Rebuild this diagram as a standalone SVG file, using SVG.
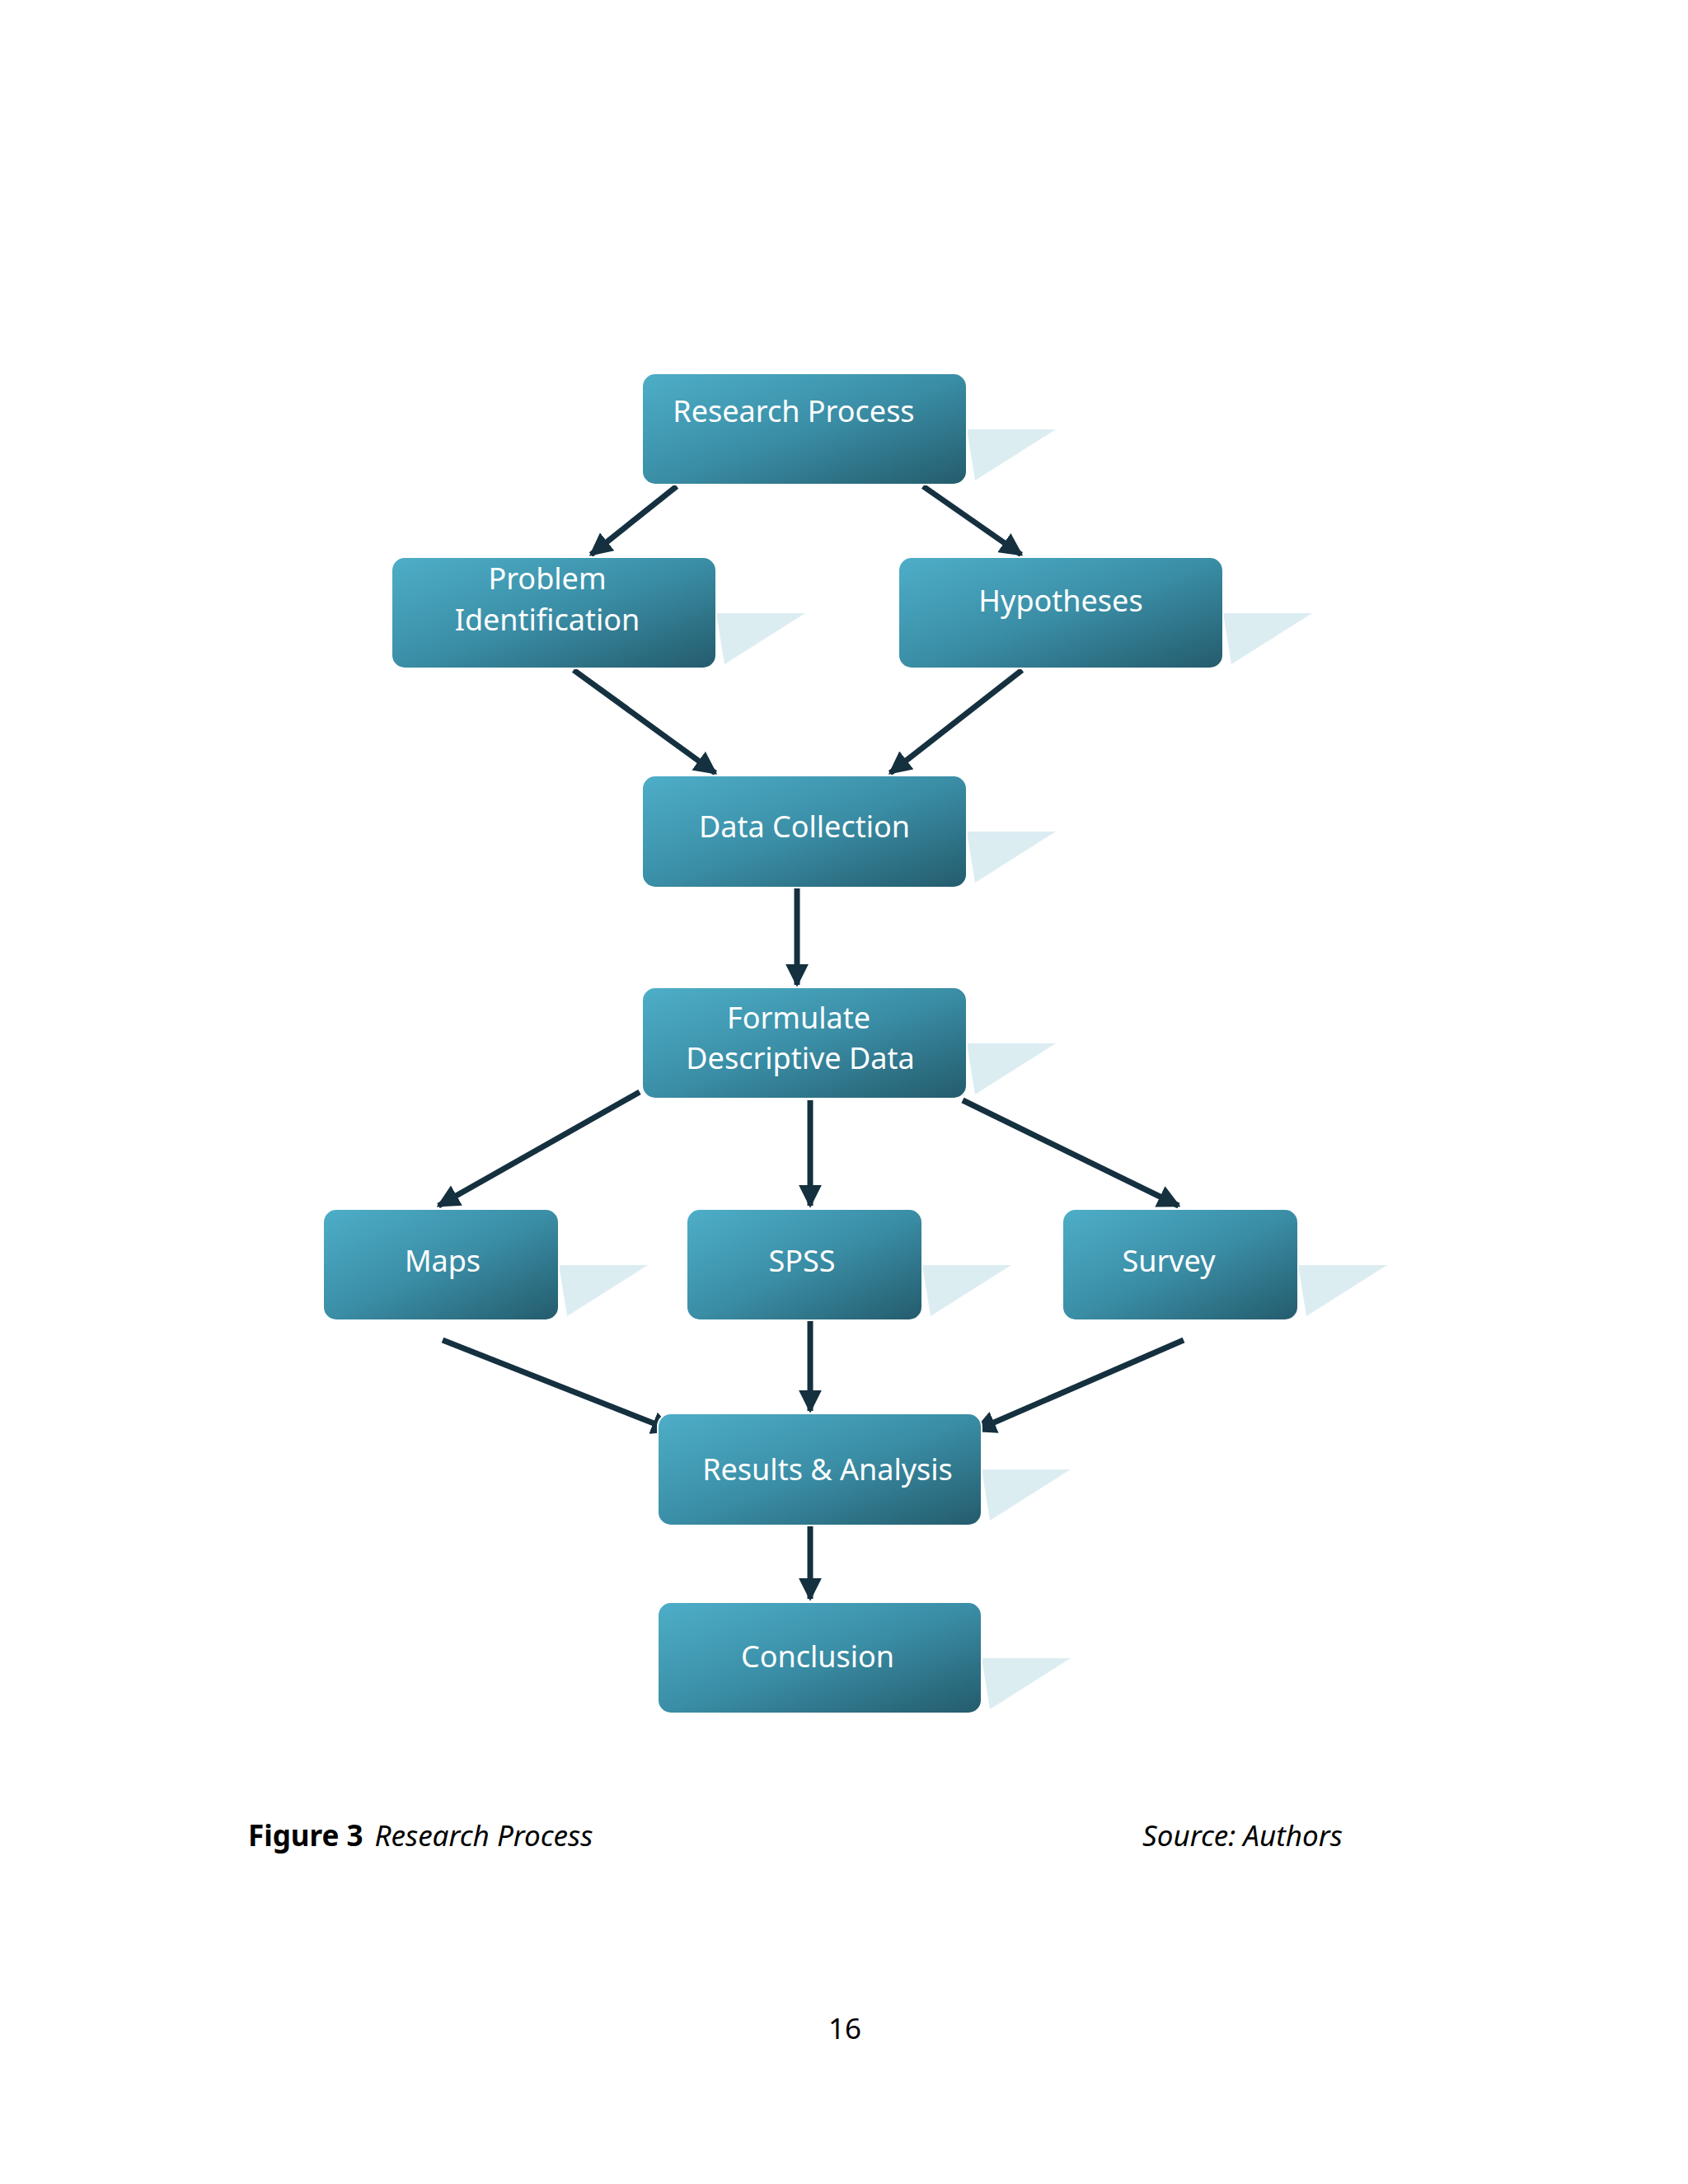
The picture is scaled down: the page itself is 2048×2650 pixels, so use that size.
<svg xmlns="http://www.w3.org/2000/svg" width="2048" height="2650" viewBox="0 0 2048 2650">
<defs>
<linearGradient id="g" x1="0" y1="0" x2="1" y2="1">
<stop offset="0" stop-color="#4eaec8"/>
<stop offset="0.5" stop-color="#3a8ea6"/>
<stop offset="1" stop-color="#245b6c"/>
</linearGradient>
<marker id="ah" viewBox="0 0 10 10" refX="9" refY="5" markerWidth="4" markerHeight="4" orient="auto" markerUnits="strokeWidth">
<path d="M0,0 L10,5 L0,10 z" fill="#15303f"/>
</marker>
<style>
.box{fill:url(#g);stroke:#ffffff;stroke-width:2}
.sh{fill:#dcedf2}
.t{font-family:"Noto Sans","Liberation Sans",sans-serif;font-size:36px;fill:#ffffff;text-anchor:middle}
.c{stroke:#15303f;stroke-width:7;fill:none;marker-end:url(#ah)}
.cap{font-family:"Noto Sans","Liberation Sans",sans-serif;font-size:35px;fill:#000}
</style>
</defs>
<rect width="2048" height="2650" fill="#ffffff"/>
<g id="connectors">
<line class="c" x1="821" y1="590" x2="717" y2="673"/>
<line class="c" x1="1120" y1="590" x2="1239" y2="673"/>
<line class="c" x1="696" y1="813" x2="868" y2="938"/>
<line class="c" x1="1240" y1="813" x2="1080" y2="938"/>
<line class="c" x1="967" y1="1078" x2="967" y2="1195"/>
<line class="c" x1="776" y1="1325" x2="532" y2="1463"/>
<line class="c" x1="983" y1="1335" x2="983" y2="1463"/>
<line class="c" x1="1168" y1="1335" x2="1430" y2="1463"/>
<line class="c" x1="537" y1="1626" x2="816" y2="1736" stroke="#2a3d5c"/>
<line class="c" x1="983" y1="1602" x2="983" y2="1712"/>
<line class="c" x1="1436" y1="1626" x2="1183" y2="1736"/>
<line class="c" x1="983" y1="1852" x2="983" y2="1940"/>
</g>
<g id="n1"><polygon class="sh" points="1173,521 1281,521 1183,583"/><rect class="box" x="779" y="453" width="394" height="135" rx="16"/><text class="t" x="963" y="512">Research Process</text></g>
<g id="n2"><polygon class="sh" points="869,744 977,744 879,806"/><rect class="box" x="475" y="676" width="394" height="135" rx="16"/><text class="t" x="664" y="715">Problem</text><text class="t" x="664" y="765">Identification</text></g>
<g id="n3"><polygon class="sh" points="1484,744 1592,744 1494,806"/><rect class="box" x="1090" y="676" width="394" height="135" rx="16"/><text class="t" x="1287" y="742">Hypotheses</text></g>
<g id="n4"><polygon class="sh" points="1173,1009 1281,1009 1183,1071"/><rect class="box" x="779" y="941" width="394" height="136" rx="16"/><text class="t" x="976" y="1016">Data Collection</text></g>
<g id="n5"><polygon class="sh" points="1173,1266 1281,1266 1183,1328"/><rect class="box" x="779" y="1198" width="394" height="135" rx="16"/><text class="t" x="969" y="1248">Formulate</text><text class="t" x="971" y="1297">Descriptive Data</text></g>
<g id="n6"><polygon class="sh" points="678,1535 786,1535 688,1597"/><rect class="box" x="392" y="1467" width="286" height="135" rx="16"/><text class="t" x="537" y="1543">Maps</text></g>
<g id="n7"><polygon class="sh" points="1119,1535 1227,1535 1129,1597"/><rect class="box" x="833" y="1467" width="286" height="135" rx="16"/><text class="t" x="973" y="1543">SPSS</text></g>
<g id="n8"><polygon class="sh" points="1575,1535 1683,1535 1585,1597"/><rect class="box" x="1289" y="1467" width="286" height="135" rx="16"/><text class="t" x="1418" y="1543">Survey</text></g>
<g id="n9"><polygon class="sh" points="1191,1783 1299,1783 1201,1845"/><rect class="box" x="798" y="1715" width="393" height="136" rx="16"/><text class="t" x="1004" y="1796">Results &amp; Analysis</text></g>
<g id="n10"><polygon class="sh" points="1191,2012 1299,2012 1201,2074"/><rect class="box" x="798" y="1944" width="393" height="135" rx="16"/><text class="t" x="992" y="2023">Conclusion</text></g>
<text class="cap" x="301" y="2240"><tspan font-weight="bold">Figure 3</tspan><tspan font-style="italic" dx="14">Research Process</tspan></text>
<text class="cap" x="1386" y="2240" font-style="italic">Source: Authors</text>
<text class="cap" x="1025" y="2474" text-anchor="middle">16</text>
</svg>
